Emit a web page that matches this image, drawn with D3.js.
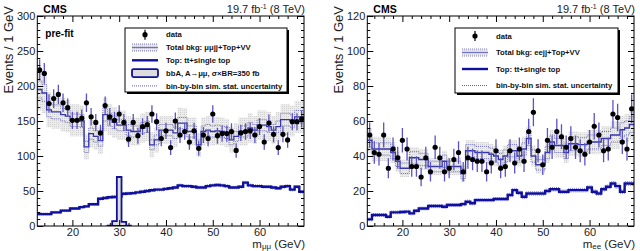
<!DOCTYPE html>
<html>
<head>
<meta charset="utf-8">
<script src="https://cdn.jsdelivr.net/npm/d3@7"></script>
<style>
body { margin: 0; background: #fff; }
svg text { font-family: "Liberation Sans", Arial, sans-serif; }
</style>
</head>
<body>
<div id="chart"></div>
<script>
// bin centres (GeV), 1 GeV bins
var masses = [13,14,15,16,17,18,19,20,21,22,23,24,25,26,27,28,29,30,31,32,33,34,35,36,37,38,39,40,41,
  42,43,44,45,46,47,48,49,50,51,52,53,54,55,56,57,58,59,60,61,62,63,64,65,66,67,68,69];

// ---- mu mu channel (left)
var dataMuMu = [223,218,175,182,188,176,169,151,151,154,176,156,148,133,172,156,151,160,148,124,148,129,142,145,160,149,125,136,112,
  150,130,135,120,136,111,130,125,160,129,132,132,135,108,133,135,136,130,142,120,147,131,112,131,123,149,149,153];
var bkgMuMu = [195,190,166,163,163,159,157,151,151,150,113,132,128,122,159,152,148,144,144,137,135,135,140,142,116,123,137,137,137,
  133,147,147,135,135,116,135,137,135,136,135,133,123,128,135,135,140,137,144,144,142,137,142,152,152,150,156,156];
var bkgSystMuMu = [30,29,25,24,24,24,23,23,23,22,18,20,19,19,24,22,22,21,21,20,20,20,21,21,18,18,20,20,20,
  20,22,21,20,20,17,20,20,20,20,20,20,18,19,20,20,21,20,21,21,21,20,21,22,22,22,23,23];
var bkgStatMuMu = [12,12,10,10,10,9,9,9,9,9,8,8,8,8,9,9,9,8,8,8,8,8,8,8,7,7,8,8,8,
  8,8,8,8,8,7,8,8,8,8,8,8,7,7,8,8,8,8,8,8,8,8,8,9,9,9,9,9];
var topMuMu = [17,17,17,19.5,19.5,22,22,25,25,27,28,31,31,39,40,41,41.5,42,46,46.5,47,48,49,50,51,52,52,53,54,
  55,58,57,57,56,55,55,57,58,58.5,58,57,55,55,56,62,58,57,57,56,56,55,54,56,57,52,56,49];
var topStatMuMu = [1.5,1.5,1.5,1.5,1.5,1.5,1.5,1.5,1.5,1.5,1.5,1.5,1.5,1.8,1.8,1.8,1.8,1.8,1.8,1.8,1.8,1.8,1.8,1.8,1.8,1.8,1.8,1.8,1.8,
  1.8,1.8,1.8,1.8,1.8,1.8,1.8,1.8,1.8,1.8,1.8,1.8,1.8,1.8,1.8,1.8,1.8,1.8,1.8,1.8,1.8,1.8,1.8,1.8,1.8,1.8,1.8,1.8];
var signalMasses = [28,29,30,31,32];
var signalMuMu = [0.5,7,70,6,0.5];

// ---- e e channel (right)
var dataEE = [52,42,41,52,33,44,39,49,44,34,34,28,39,31,45,39,31,33,38,42,31,39,38,37,37,31,36,43,33,
  34,43,36,44,37,54,65,43,35,49,45,54,51,45,50,45,43,41,48,57,52,43,44,64,62,48,44,67];
var bkgEE = [49,44,44,44,44,42,37,33,33,39,39,38,38,34,34,34,37,34,34,34,30,43,43,42,42,42,41,40,38,
  40,43,43,40,44,50,40,35,35,42,48,46,46,42,47,47,46.5,46.5,48,48,48,50,50,52,52,55,56,58];
var bkgSystEE = [7,7,7,7,7,6,6,5,5,6,6,6,6,5,5,5,6,5,5,5,5,6,6,6,6,6,6,6,6,
  6,6,6,6,7,7,6,5,5,6,7,7,7,6,7,7,7,7,7,7,7,7,7,8,8,8,8,9];
var bkgStatEE = [4,3.5,3.5,3.5,3.5,3.5,3,3,3,3.5,3.5,3.5,3.5,3,3,3,3.5,3,3,3,3,3.5,3.5,3.5,3.5,3.5,3.5,3.5,3.5,
  3.5,3.5,3.5,3.5,3.5,4,3.5,3,3,3.5,4,4,4,3.5,4,4,4,4,4,4,4,4,4,4,4,4,4,4.5];
var topEE = [3.8,6.3,6.3,6.3,5.3,7.8,7.8,8,8.2,7.2,8.7,10,10,11.4,11.4,11.4,11,12,12,12,12.5,13.9,13,14.8,14.8,14.8,14.8,15.4,15.4,
  15.4,17.7,20.5,19,16.7,18.6,18.6,18.6,18.6,20,21,21,19.6,19.6,20.5,20.5,20.5,20.5,22,19.6,18.6,21,22.4,24.3,22.8,19.6,24.3,24.3];
var topStatEE = [0.8,0.8,0.8,0.8,0.8,0.8,0.8,0.8,0.8,0.8,0.8,0.8,0.8,0.9,0.9,0.9,0.9,0.9,0.9,0.9,0.9,0.9,0.9,0.9,0.9,0.9,0.9,0.9,0.9,
  0.9,1,1,1,1,1,1,1,1,1,1,1,1,1,1,1,1,1,1,1,1,1,1,1.1,1.1,1.1,1.1,1.1];

var xTicks = [20,30,40,50,60];
var yTicksMuMu = [0,50,100,150,200,250,300];
var yTicksEE = [0,20,40,60,80,100,120];

var W = 640, H = 251;
var plotTop = 16, plotBottom = 226;

var svg = d3.select("#chart").append("svg")
  .attr("width", W)
  .attr("height", H);

var defs = svg.append("defs");
var pat = defs.append("pattern")
  .attr("id", "stip")
  .attr("width", 2).attr("height", 2)
  .attr("patternUnits", "userSpaceOnUse");
pat.append("rect").attr("width", 2).attr("height", 2).attr("fill", "#ebebeb");
pat.append("rect").attr("width", 1).attr("height", 1).attr("fill", "#d2d2d2");

var lineBlue = "#3636b0",
  errBlue = "#5b52c8",
  topBlue = "#10109c",
  dotBlue = "#4b4bc0";

function drawPanel(p) {
  var x = d3.scaleLinear().domain([12.5, 69.5]).range([p.left, p.right]);
  var y = d3.scaleLinear().domain([0, p.yMax]).range([plotBottom, plotTop]);

  var g = svg.append("g");
  var clipId = "clip" + p.id;
  defs.append("clipPath").attr("id", clipId)
    .append("rect")
    .attr("x", p.left).attr("y", plotTop)
    .attr("width", p.right - p.left).attr("height", plotBottom - plotTop);
  var plot = g.append("g").attr("clip-path", "url(#" + clipId + ")");

  var step = d3.line()
    .x(function (d) { return x(d[0]); })
    .y(function (d) { return y(d[1]); })
    .curve(d3.curveStepAfter);

  function stepPts(vals, off, sign) {
    var pts = masses.map(function (m, i) {
      return [m - 0.5, vals[i] + (off ? sign * off[i] : 0)];
    });
    var n = masses.length - 1;
    pts.push([masses[n] + 0.5, pts[n][1]]);
    return pts;
  }

  // total syst band
  plot.append("g").selectAll("rect")
    .data(masses)
    .enter().append("rect")
    .attr("x", function (m) { return x(m - 0.5); })
    .attr("width", function (m) { return x(m + 0.5) - x(m - 0.5); })
    .attr("y", function (m, i) { return y(p.bkg[i] + p.syst[i]); })
    .attr("height", function (m, i) { return y(p.bkg[i] - p.syst[i]) - y(p.bkg[i] + p.syst[i]); })
    .attr("fill", "url(#stip)");

  // bin-by-bin stat (dotted)
  [1, -1].forEach(function (s) {
    plot.append("path")
      .attr("d", step(stepPts(p.bkg, p.stat, s)))
      .attr("fill", "none")
      .attr("stroke", dotBlue)
      .attr("stroke-width", 0.8)
      .attr("stroke-dasharray", "1,1");
    plot.append("path")
      .attr("d", step(stepPts(p.top, p.topStat, s)))
      .attr("fill", "none")
      .attr("stroke", "#7a7aee")
      .attr("stroke-width", 1)
      .attr("stroke-dasharray", "1,1");
  });

  // top
  plot.append("path")
    .attr("d", step(stepPts(p.top)))
    .attr("fill", "none")
    .attr("stroke", topBlue)
    .attr("stroke-width", 2.4);

  // total bkg
  plot.append("path")
    .attr("d", step(stepPts(p.bkg)))
    .attr("fill", "none")
    .attr("stroke", lineBlue)
    .attr("stroke-width", 1.3);

  // signal
  if (p.signal) {
    var sp = p.signalMasses.map(function (m, i) { return [m - 0.5, p.signal[i]]; });
    sp.push([p.signalMasses[p.signalMasses.length - 1] + 0.5, 0]);
    var area = d3.area()
      .x(function (d) { return x(d[0]); })
      .y0(y(0))
      .y1(function (d) { return y(d[1]); })
      .curve(d3.curveStepAfter);
    plot.append("path")
      .attr("d", area(sp))
      .attr("fill", "#dcdcdc")
      .attr("stroke", topBlue)
      .attr("stroke-width", 1.8);
  }

  // data
  plot.append("g").selectAll("line")
    .data(masses)
    .enter().append("line")
    .attr("x1", function (m) { return x(m); })
    .attr("x2", function (m) { return x(m); })
    .attr("y1", function (m, i) { return y(p.data[i] + Math.sqrt(p.data[i])); })
    .attr("y2", function (m, i) { return y(p.data[i] - Math.sqrt(p.data[i])); })
    .attr("stroke", errBlue)
    .attr("stroke-width", 1.3);
  plot.append("g").selectAll("circle")
    .data(masses)
    .enter().append("circle")
    .attr("cx", function (m) { return x(m); })
    .attr("cy", function (m, i) { return y(p.data[i]); })
    .attr("r", 2.6)
    .attr("fill", "#000");

  // axes, ROOT style ticks inside the frame
  var xMinor = d3.range(14, 70, 2).filter(function (v) { return xTicks.indexOf(v) < 0; });
  var yMinor = d3.range(0, p.yMax + 0.001, p.yMinorStep).filter(function (v) { return p.yTicks.indexOf(v) < 0; });

  var ax = g.append("g");
  ax.append("g").attr("transform", "translate(0," + plotBottom + ")")
    .call(d3.axisBottom(x).tickValues(xTicks).tickSize(-6).tickPadding(2).tickFormat(d3.format("d")));
  ax.append("g").attr("transform", "translate(0," + plotBottom + ")")
    .call(d3.axisBottom(x).tickValues(xMinor).tickSize(-3).tickFormat(""));
  ax.append("g").attr("transform", "translate(0," + plotTop + ")")
    .call(d3.axisTop(x).tickValues(xTicks).tickSize(-6).tickFormat(""));
  ax.append("g").attr("transform", "translate(0," + plotTop + ")")
    .call(d3.axisTop(x).tickValues(xMinor).tickSize(-3).tickFormat(""));
  ax.append("g").attr("transform", "translate(" + p.left + ",0)")
    .call(d3.axisLeft(y).tickValues(p.yTicks).tickSize(-6).tickPadding(2));
  ax.append("g").attr("transform", "translate(" + p.left + ",0)")
    .call(d3.axisLeft(y).tickValues(yMinor).tickSize(-3).tickFormat(""));
  ax.append("g").attr("transform", "translate(" + p.right + ",0)")
    .call(d3.axisRight(y).tickValues(p.yTicks).tickSize(-6).tickFormat(""));
  ax.append("g").attr("transform", "translate(" + p.right + ",0)")
    .call(d3.axisRight(y).tickValues(yMinor).tickSize(-3).tickFormat(""));
  ax.selectAll(".domain").remove();
  ax.selectAll("line").attr("stroke", "#000");
  ax.selectAll("text")
    .style("font-family", "'Liberation Sans', Arial, sans-serif")
    .style("font-size", "11px")
    .attr("fill", "#222");

  g.append("rect")
    .attr("x", p.left).attr("y", plotTop)
    .attr("width", p.right - p.left).attr("height", plotBottom - plotTop)
    .attr("fill", "none")
    .attr("stroke", "#000")
    .attr("stroke-width", 1);

  // titles
  g.append("text")
    .attr("transform", "translate(" + (p.left - 24.5) + ",6) rotate(-90)")
    .attr("text-anchor", "end")
    .style("font-size", "13px")
    .attr("fill", "#222")
    .text("Events / 1 GeV");

  var xt = g.append("text")
    .attr("x", p.right + 1)
    .attr("y", 247.8)
    .attr("text-anchor", "end")
    .style("font-size", "11.5px")
    .attr("fill", "#222");
  xt.append("tspan").text("m");
  xt.append("tspan").attr("dy", 1.5).style("font-size", "8px").text(p.sub);
  xt.append("tspan").attr("dy", -1.5).text(" (GeV)");

  g.append("text")
    .attr("x", p.left + 6)
    .attr("y", 13)
    .style("font-size", "10.5px")
    .style("font-weight", "bold")
    .text("CMS");

  var lumi = g.append("text")
    .attr("x", p.right + 1)
    .attr("y", 13)
    .attr("text-anchor", "end")
    .style("font-size", "11px")
    .attr("fill", "#222");
  lumi.append("tspan").text("19.7 fb");
  lumi.append("tspan").attr("dy", -4).style("font-size", "7px").text("-1");
  lumi.append("tspan").attr("dy", 4).text(" (8 TeV)");

  if (p.prefit) {
    g.append("text")
      .attr("x", p.left + 8)
      .attr("y", 37)
      .style("font-size", "10px")
      .style("font-weight", "bold")
      .text("pre-fit");
  }

  // legend
  var L = p.legend;
  var lg = g.append("g");
  lg.append("rect")
    .attr("x", L.x + 2).attr("y", L.y + 2)
    .attr("width", L.w).attr("height", L.h)
    .attr("fill", "#000");
  lg.append("rect")
    .attr("x", L.x).attr("y", L.y)
    .attr("width", L.w).attr("height", L.h)
    .attr("fill", "#fff")
    .attr("stroke", "#000")
    .attr("stroke-width", 1);

  var sx0 = L.x + 7, sx1 = L.x + 33, tx = L.x + 41;
  L.entries.forEach(function (e, i) {
    var cy = L.y + L.first + i * L.gap;
    var eg = lg.append("g");
    if (e.kind === "data") {
      var cx = (sx0 + sx1) / 2;
      eg.append("line").attr("x1", cx).attr("x2", cx).attr("y1", cy - 5).attr("y2", cy + 5)
        .attr("stroke", "#000").attr("stroke-width", 1.2);
      eg.append("circle").attr("cx", cx).attr("cy", cy).attr("r", 2.6).attr("fill", "#000");
    } else if (e.kind === "total") {
      eg.append("rect").attr("x", sx0).attr("y", cy - 3.5).attr("width", sx1 - sx0).attr("height", 7)
        .attr("fill", "url(#stip)");
      [-3.5, 3.5].forEach(function (o) {
        eg.append("line").attr("x1", sx0).attr("x2", sx1).attr("y1", cy + o).attr("y2", cy + o)
          .attr("stroke", dotBlue).attr("stroke-width", 0.7).attr("stroke-dasharray", "1,1");
      });
      eg.append("line").attr("x1", sx0).attr("x2", sx1).attr("y1", cy).attr("y2", cy)
        .attr("stroke", "#7070d0").attr("stroke-width", 1.3);
    } else if (e.kind === "top") {
      eg.append("line").attr("x1", sx0).attr("x2", sx1).attr("y1", cy).attr("y2", cy)
        .attr("stroke", topBlue).attr("stroke-width", 2.4);
    } else if (e.kind === "signal") {
      eg.append("rect").attr("x", sx0).attr("y", cy - 4).attr("width", sx1 - sx0).attr("height", 8)
        .attr("rx", 1.5)
        .attr("fill", "#dcdcdc").attr("stroke", topBlue).attr("stroke-width", 1.8);
    } else if (e.kind === "stat") {
      eg.append("line").attr("x1", sx0).attr("x2", sx1).attr("y1", cy).attr("y2", cy)
        .attr("stroke", dotBlue).attr("stroke-width", 0.9).attr("stroke-dasharray", "1,1");
    }
    eg.append("text")
      .attr("x", tx)
      .attr("y", cy + 2.7)
      .style("font-size", "7.7px")
      .style("font-weight", "bold")
      .attr("fill", "#111")
      .text(e.label);
  });
}

drawPanel({
  id: "mm", left: 37.3, right: 304, yMax: 300, yTicks: yTicksMuMu, yMinorStep: 10,
  data: dataMuMu, bkg: bkgMuMu, syst: bkgSystMuMu, stat: bkgStatMuMu,
  top: topMuMu, topStat: topStatMuMu,
  signal: signalMuMu, signalMasses: signalMasses,
  sub: "\u03bc\u03bc", prefit: true,
  legend: {
    x: 125, y: 28, w: 162, h: 64, first: 6.7, gap: 12.8,
    entries: [
      { kind: "data", label: "data" },
      { kind: "total", label: "Total bkg: \u03bc\u03bcjj+Top+VV" },
      { kind: "top", label: "Top: tt+single top" },
      { kind: "signal", label: "bbA, A\u2192\u03bc\u03bc, \u03c3\u00d7BR=350 fb" },
      { kind: "stat", label: "bin-by-bin sim. stat. uncertainty" }
    ]
  }
});

drawPanel({
  id: "ee", left: 367.3, right: 634, yMax: 120, yTicks: yTicksEE, yMinorStep: 4,
  data: dataEE, bkg: bkgEE, syst: bkgSystEE, stat: bkgStatEE,
  top: topEE, topStat: topStatEE,
  sub: "ee", prefit: false,
  legend: {
    x: 455, y: 28, w: 163, h: 65, first: 8, gap: 16.5,
    entries: [
      { kind: "data", label: "data" },
      { kind: "total", label: "Total bkg: eejj+Top+VV" },
      { kind: "top", label: "Top: tt+single top" },
      { kind: "stat", label: "bin-by-bin sim. stat. uncertainty" }
    ]
  }
});
</script>
</body>
</html>
